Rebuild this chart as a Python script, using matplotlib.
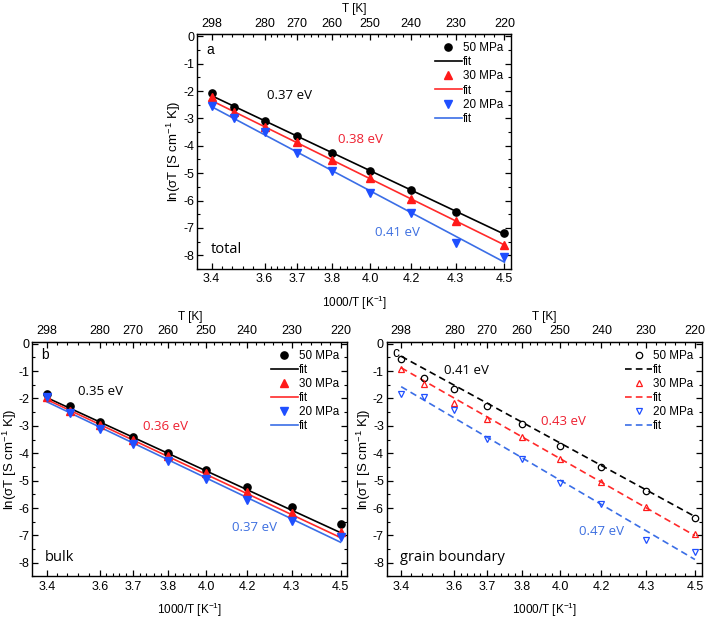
import numpy as np
import matplotlib
matplotlib.use("Agg")
import matplotlib.pyplot as plt
from matplotlib.lines import Line2D

plt.rcParams['font.family'] = ['Liberation Sans', 'DejaVu Sans']
plt.rcParams['mathtext.fontset'] = 'custom'
plt.rcParams['mathtext.rm'] = 'Liberation Sans'
plt.rcParams['mathtext.it'] = 'Liberation Sans:italic'
plt.rcParams['axes.unicode_minus'] = False

# ---- data ----
T_points = [298, 290, 280, 270, 260, 250, 240, 230, 220]
T_ticks = [298, 280, 270, 260, 250, 240, 230, 220]
x_ticklabels = ['3.4', '3.6', '3.7', '3.8', '4.0', '4.2', '4.3', '4.5']
series_labels = ['50 MPa', '30 MPa', '20 MPa']

# panel a (total)
a_50 = [-2.06, -2.57, -3.11, -3.66, -4.28, -4.93, -5.63, -6.40, -7.17]
a_30 = [-2.23, -2.78, -3.30, -3.88, -4.52, -5.17, -5.93, -6.76, -7.61]
a_20 = [-2.56, -2.98, -3.51, -4.27, -4.93, -5.72, -6.45, -7.54, -8.06]
a_fit_50 = [-2.17, -7.23]
a_fit_30 = [-2.35, -7.62]
a_fit_20 = [-2.57, -8.25]
a_ea = ['0.37 eV', '0.38 eV', '0.41 eV']

# panel b (bulk)
b_50 = [-1.84, -2.29, -2.87, -3.39, -4.00, -4.60, -5.25, -5.97, -6.58]
b_30 = [-1.95, -2.47, -2.98, -3.51, -4.10, -4.73, -5.42, -6.17, -6.88]
b_20 = [-1.96, -2.53, -3.11, -3.68, -4.30, -4.93, -5.69, -6.49, -7.06]
b_fit_50 = [-1.97, -6.90]
b_fit_30 = [-2.04, -7.08]
b_fit_20 = [-2.12, -7.25]
b_ea = ['0.35 eV', '0.36 eV', '0.37 eV']

# panel c (grain boundary)
c_50 = [-0.55, -1.25, -1.66, -2.27, -2.94, -3.72, -4.50, -5.39, -6.37]
c_30 = [-0.92, -1.48, -2.18, -2.75, -3.41, -4.20, -5.04, -5.97, -6.95]
c_20 = [-1.85, -1.93, -2.42, -3.47, -4.20, -5.08, -5.85, -7.15, -7.61]
c_fit_50 = [-0.46, -6.31]
c_fit_30 = [-0.88, -7.01]
c_fit_20 = [-1.57, -7.88]
c_ea = ['0.41 eV', '0.43 eV', '0.47 eV']

# ---- style ----
col_pts = ['black', '#ff1a1a', '#1f4fff']
col_fit = ['black', '#ff2a2a', '#3b6ee6']
col_txt = ['black', '#ee2030', '#3d6fe0']
ann_font = ['Open Sans', 'DejaVu Sans']

x_pts = [1000.0 / t for t in T_points]
x_fit = [1000.0 / T_points[0], 1000.0 / T_points[-1]]

# minor tick temperatures
T_minor = [294.4, 290.8, 287.2, 283.6] + list(range(278, 220, -2))
T_minor = [t for t in T_minor if t not in T_ticks]

fig = plt.figure(figsize=(7.09, 6.19), dpi=100)

def make_panel(rect, ys, fits, ea, ea_pos, letter, letter_pos, name, name_pos, filled):
    ax = fig.add_axes(rect)
    markers = ['o', '^', 'v']
    handles = []
    for i in range(3):
        if filled:
            ax.plot(x_pts, ys[i], linestyle='none', marker=markers[i], ms=5.2,
                    color=col_pts[i], mec=col_pts[i], zorder=3)
            h_pt = Line2D([], [], linestyle='none', marker=markers[i], ms=5.2,
                          color=col_pts[i])
            ls = '-'
        else:
            ax.plot(x_pts, ys[i], linestyle='none', marker=markers[i], ms=4.6,
                    mfc='none', mec=col_pts[i], mew=0.9, zorder=3)
            h_pt = Line2D([], [], linestyle='none', marker=markers[i], ms=4.6,
                          mfc='none', mec=col_pts[i], mew=0.9)
            ls = (0, (4, 2.5))
        ax.plot(x_fit, fits[i], color=col_fit[i], lw=1.2, linestyle=ls, zorder=2)
        h_fit = Line2D([], [], color=col_fit[i], lw=1.2, linestyle=ls)
        handles += [h_pt, h_fit]
    labels = []
    for s in series_labels:
        labels += [s, 'fit']
    ax.legend(handles, labels, loc='upper right', frameon=False, fontsize=8.4,
              handlelength=2.3, handletextpad=0.1, labelspacing=0.18,
              borderaxespad=0.4, borderpad=0.3)
    ax.set_xlim(3.297, 4.573)
    ax.set_ylim(-8.5, 0.08)
    ax.set_xticks([1000.0 / t for t in T_ticks])
    ax.set_xticklabels(x_ticklabels)
    ax.set_xticks([1000.0 / t for t in T_minor], minor=True)
    ax.set_yticks(np.arange(-8, 0.5, 1))
    ax.set_yticks(np.arange(-8.5, 0.1, 0.5), minor=True)
    ax.tick_params(which='both', direction='in', right=True, top=False,
                   labelsize=9, pad=3)
    ax.tick_params(axis='y', pad=2)
    ax.tick_params(which='major', length=4, width=0.9)
    ax.tick_params(which='minor', length=2, width=0.8)
    ax.set_xlabel('1000/T [K$^{-1}$]', fontsize=8.5, labelpad=6)
    ax.set_ylabel('ln(σT [S cm$^{-1}$ K])', fontsize=9.5, labelpad=0)
    for sp in ax.spines.values():
        sp.set_linewidth(1.0)
    sec = ax.secondary_xaxis('top', functions=(lambda x: 1000.0 / x,
                                               lambda t: 1000.0 / t))
    sec.set_xticks(T_ticks)
    sec.set_xticklabels([str(t) for t in T_ticks])
    sec.set_xticks(T_minor, minor=True)
    sec.tick_params(which='both', direction='in', labelsize=9, pad=3)
    sec.tick_params(which='major', length=4, width=0.9)
    sec.tick_params(which='minor', length=2, width=0.8)
    sec.set_xlabel('T [K]', fontsize=8.5, labelpad=4)
    for i in range(3):
        ax.text(ea_pos[i][0], ea_pos[i][1], ea[i], color=col_txt[i],
                fontsize=9.5, va='center', ha='left', family=ann_font)
    ax.text(letter_pos[0], letter_pos[1], letter, fontsize=10, va='center',
            ha='left')
    ax.text(name_pos[0], name_pos[1], name, fontsize=10.5, va='center',
            ha='left', family=ann_font)
    return ax

make_panel([0.278, 0.5654, 0.443, 0.3796], [a_50, a_30, a_20],
           [a_fit_50, a_fit_30, a_fit_20], a_ea,
           [(3.58, -2.17), (3.871, -3.76), (4.02, -7.17)],
           'a', (3.336, -0.52), 'total', (3.352, -7.78), True)

make_panel([0.0456, 0.0687, 0.4443, 0.3796], [b_50, b_30, b_20],
           [b_fit_50, b_fit_30, b_fit_20], b_ea,
           [(3.481, -1.73), (3.745, -3.02), (4.106, -6.70)],
           'b', (3.331, -0.43), 'bulk', (3.349, -7.82), True)

make_panel([0.5454, 0.0687, 0.4443, 0.3796], [c_50, c_30, c_20],
           [c_fit_50, c_fit_30, c_fit_20], c_ea,
           [(3.528, -0.98), (3.924, -2.85), (4.078, -6.85)],
           'c', (3.319, -0.34), 'grain boundary', (3.352, -7.82), False)

fig.savefig('out.png', dpi=100)
